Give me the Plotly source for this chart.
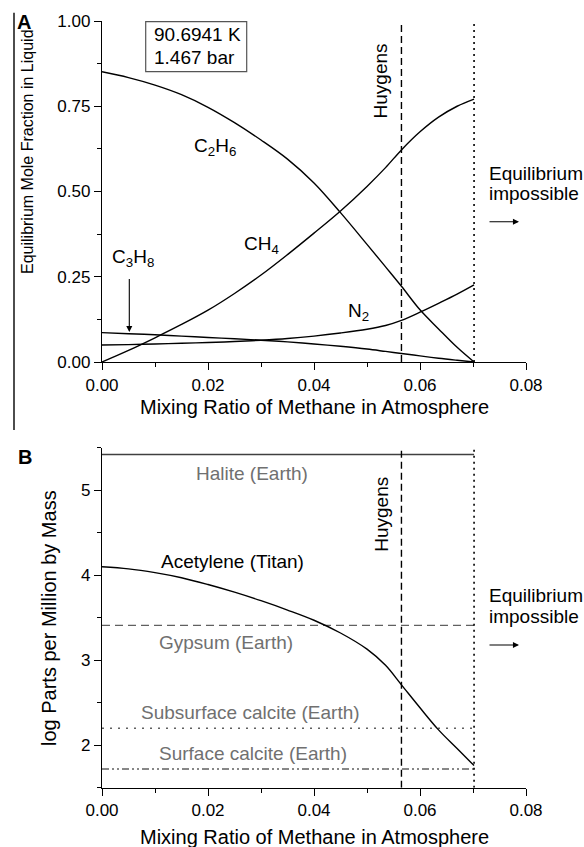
import plotly.graph_objects as go

# ---------------- data ----------------
mix = [0, 0.005, 0.01, 0.015, 0.02, 0.025, 0.03, 0.035, 0.04, 0.045, 0.05,
       0.0535, 0.0565, 0.06, 0.0635, 0.067, 0.0702]
c2h6 = [0.851, 0.834, 0.812, 0.784, 0.747, 0.702, 0.651, 0.595, 0.525, 0.438, 0.345,
        0.279, 0.222, 0.153, 0.097, 0.043, 0.0]
ch4 = [0.0, 0.034, 0.071, 0.110, 0.152, 0.201, 0.255, 0.315, 0.378, 0.443, 0.515,
       0.570, 0.622, 0.675, 0.718, 0.750, 0.771]
n2 = [0.050, 0.051, 0.053, 0.055, 0.057, 0.060, 0.064, 0.069, 0.076, 0.085, 0.096,
      0.107, 0.122, 0.146, 0.172, 0.199, 0.226]
c3h8 = [0.086, 0.083, 0.080, 0.076, 0.072, 0.068, 0.064, 0.059, 0.053, 0.046, 0.038,
        0.031, 0.025, 0.018, 0.011, 0.005, 0.0]
acetylene = [4.10, 4.075, 4.03, 3.97, 3.89, 3.80, 3.70, 3.59, 3.47, 3.32, 3.13,
             2.94, 2.71, 2.44, 2.18, 1.96, 1.76]

earth_names = ["Halite (Earth)", "Gypsum (Earth)", "Subsurface calcite (Earth)", "Surface calcite (Earth)"]
earth_levels = [5.42, 3.41, 2.20, 1.72]
earth_label_x = [0.0283, 0.0234, 0.0281, 0.0284]
earth_label_y = [5.20, 3.21, 2.39, 1.905]

huygens_x = 0.0565
limit_x = 0.0702

x_ticks = [0.0, 0.02, 0.04, 0.06, 0.08]
ya_ticks = [0.0, 0.25, 0.5, 0.75, 1.0]
yb_ticks = [2, 3, 4, 5]

W, H = 584, 847
def px(v):
    return v / W
def py(v):
    return 1 - v / H

FONT = "Liberation Sans, Arial, sans-serif"
GRAY_TXT = "#707070"
GRAY_LN = "#606060"

fig = go.Figure()

# ---------------- panel A curves ----------------
for ys in [c2h6, ch4, n2, c3h8]:
    fig.add_trace(go.Scatter(x=mix, y=ys, mode="lines", xaxis="x", yaxis="y",
                             line=dict(color="black", width=1.4, shape="spline", smoothing=1.0),
                             showlegend=False, hoverinfo="skip"))
fig.add_trace(go.Scatter(x=[huygens_x, huygens_x], y=[0, 1], mode="lines", xaxis="x", yaxis="y",
                         line=dict(color="black", width=1.4, dash="7px,4px"), showlegend=False, hoverinfo="skip"))
fig.add_trace(go.Scatter(x=[limit_x, limit_x], y=[0, 1], mode="lines", xaxis="x", yaxis="y",
                         line=dict(color="black", width=1.6, dash="2px,4px"), showlegend=False, hoverinfo="skip"))

# ---------------- panel B ----------------
earth_dash = ["solid", "8px,5px", "2px,6px", "7px,3px,2px,3px,2px,3px"]
for lvl, d in zip(earth_levels, earth_dash):
    fig.add_trace(go.Scatter(x=[0, limit_x], y=[lvl, lvl], mode="lines", xaxis="x2", yaxis="y2",
                             line=dict(color=GRAY_LN if d != "solid" else "#404040", width=1.4, dash=d),
                             showlegend=False, hoverinfo="skip"))
fig.add_trace(go.Scatter(x=mix, y=acetylene, mode="lines", xaxis="x2", yaxis="y2",
                         line=dict(color="black", width=1.4, shape="spline", smoothing=1.0),
                         showlegend=False, hoverinfo="skip"))
fig.add_trace(go.Scatter(x=[huygens_x, huygens_x], y=[1.5, 5.5], mode="lines", xaxis="x2", yaxis="y2",
                         line=dict(color="black", width=1.4, dash="7px,4px"), showlegend=False, hoverinfo="skip"))
fig.add_trace(go.Scatter(x=[limit_x, limit_x], y=[1.5, 5.5], mode="lines", xaxis="x2", yaxis="y2",
                         line=dict(color="black", width=1.6, dash="2px,4px"), showlegend=False, hoverinfo="skip"))

# ---------------- axes ----------------
def common_axis():
    return dict(showline=True, linecolor="black", linewidth=1.4, ticks="outside", ticklen=7,
                tickwidth=1.4, tickcolor="black", showgrid=False, zeroline=False, automargin=False,
                tickfont=dict(size=17, family=FONT, color="black"), fixedrange=True)

def xax(anchor, dom):
    d = common_axis()
    d.update(domain=dom, range=[0, 0.08], anchor=anchor, tickvals=x_ticks, tickformat=".2f",
             minor=dict(ticks="outside", ticklen=4, tickwidth=1.4, tickcolor="black", dtick=0.01, tick0=0))
    return d

def yax(anchor, dom, rng, tv, fmt, mdt):
    d = common_axis()
    d.update(domain=dom, range=rng, anchor=anchor, tickvals=tv, tickformat=fmt,
             minor=dict(ticks="outside", ticklen=4, tickwidth=1.4, tickcolor="black", dtick=mdt, tick0=0))
    return d

xdom = [px(102), px(526)]
fig.update_layout(
    width=W, height=H, margin=dict(l=0, r=0, t=0, b=0, pad=0), autosize=False,
    paper_bgcolor="white", plot_bgcolor="white",
    font=dict(family=FONT, size=19, color="black"),
    xaxis=xax("y", xdom),
    yaxis=yax("x", [py(362), py(21)], [0, 1], ya_ticks, ".2f", 0.125),
    xaxis2=xax("y2", xdom),
    yaxis2=yax("x2", [py(787.7), py(447.7)], [1.5, 5.5], yb_ticks, "d", 0.5),
)

ann = []
def paper_text(x, y, text, size=19, color="black", family=FONT, xanchor="center", **kw):
    d = dict(x=px(x), y=py(y), xref="paper", yref="paper", text=text, showarrow=False,
             xanchor=xanchor, yanchor="middle",
             font=dict(size=size, family=family, color=color))
    d.update(kw)
    ann.append(d)

paper_text(24, 22, "<b>A</b>", size=20)
paper_text(25, 457, "<b>B</b>", size=20)
paper_text(314, 407, "Mixing Ratio of Methane in Atmosphere", size=20)
paper_text(314, 837, "Mixing Ratio of Methane in Atmosphere", size=20)
paper_text(27, 152, "Equilibrium Mole Fraction in Liquid", size=16, textangle=-90)
paper_text(49, 618, "log Parts per Million by Mass", size=20, textangle=-90)
paper_text(152, 35, "90.6941 K", size=19, xanchor="left")
paper_text(152, 58, "1.467 bar", size=19, xanchor="left")
paper_text(487, 173, "Equilibrium", size=19, xanchor="left")
paper_text(487, 194, "impossible", size=19, xanchor="left")
paper_text(487, 595, "Equilibrium", size=19, xanchor="left")
paper_text(487, 616, "impossible", size=19, xanchor="left")

for yy in [221.7, 645]:
    ann.append(dict(x=px(519), y=py(yy), xref="paper", yref="paper", text="", showarrow=True,
                    ax=-31, ay=0, arrowhead=2, arrowsize=1.1, arrowwidth=1.1, arrowcolor="black"))

def data_text(x, y, text, xr="x", yr="y", color="black", size=19, **kw):
    d = dict(x=x, y=y, xref=xr, yref=yr, text=text, showarrow=False,
             xanchor="center", yanchor="middle",
             font=dict(size=size, family=FONT, color=color))
    d.update(kw)
    ann.append(d)

data_text(0.0213, 0.630, "C<sub>2</sub>H<sub>6</sub>")
data_text(0.0301, 0.343, "CH<sub>4</sub>")
data_text(0.00585, 0.305, "C<sub>3</sub>H<sub>8</sub>")
data_text(0.0484, 0.148, "N<sub>2</sub>")
data_text(0.0526, 0.825, "Huygens", textangle=-90)
ann.append(dict(x=0.00515, y=0.088, xref="x", yref="y", ax=0.00515, ay=0.248, axref="x", ayref="y",
                text="", showarrow=True, arrowhead=2, arrowsize=1.1, arrowwidth=1.1, arrowcolor="black"))

for nm, lx, ly in zip(earth_names, earth_label_x, earth_label_y):
    data_text(lx, ly, nm, xr="x2", yr="y2", color=GRAY_TXT)
data_text(0.0246, 4.16, "Acetylene (Titan)", xr="x2", yr="y2")
data_text(0.0526, 4.72, "Huygens", xr="x2", yr="y2", textangle=-90)

fig.update_layout(annotations=ann)

fig.add_shape(type="rect", xref="paper", yref="paper", x0=px(145.7), x1=px(246.7), y0=py(71.7), y1=py(21.7),
              line=dict(color="#555555", width=1.2))
fig.add_shape(type="line", xref="paper", yref="paper", x0=px(14), x1=px(14), y0=py(12.7), y1=py(430),
              line=dict(color="black", width=1.4))

fig.write_html("out.html")
